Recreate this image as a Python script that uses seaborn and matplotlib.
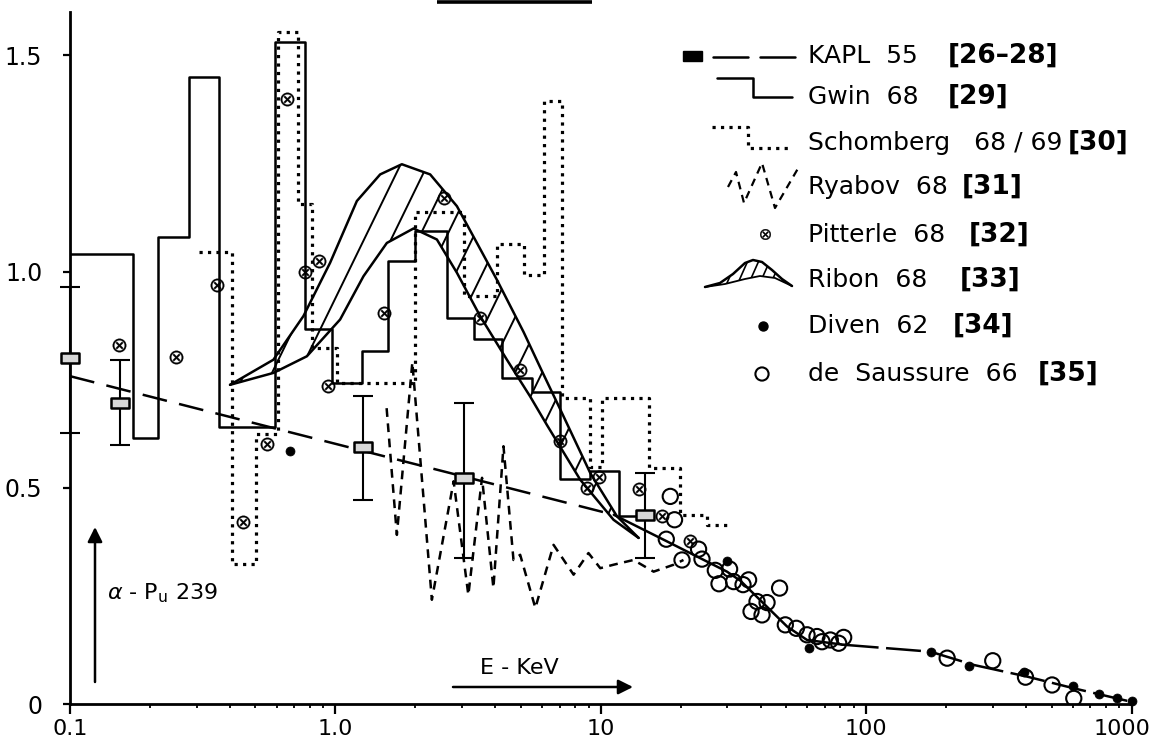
import numpy as np
import matplotlib
matplotlib.use("Agg")
import matplotlib.pyplot as plt
import matplotlib.transforms as mtransforms
from matplotlib.path import Path
from matplotlib.patches import Polygon, Rectangle
from matplotlib.collections import LineCollection
from matplotlib.ticker import LogLocator, NullFormatter
import seaborn as sns

sns.set_style("ticks")
plt.rcParams["font.family"] = ["DejaVu Sans"]
plt.rcParams["mathtext.fontset"] = "dejavusans"
for key in ("text.color", "axes.labelcolor", "xtick.color", "ytick.color",
            "axes.edgecolor"):
    plt.rcParams[key] = "black"

# ---------------- data (E in keV, alpha of Pu-239) ----------------
# Gwin 68: histogram bin edges and values
gwin_edges = [0.1, 0.173, 0.215, 0.281, 0.365, 0.593, 0.769, 0.970, 1.258, 1.585,
              1.998, 2.632, 3.316, 4.242, 5.504, 7.036, 9.13, 11.67, 14.09]
gwin_vals = [1.04, 0.615, 1.08, 1.45, 0.64, 1.53, 0.866, 0.742, 0.816, 1.024,
             1.093, 0.893, 0.843, 0.754, 0.722, 0.52, 0.538, 0.434]

# Schomberg 68/69: histogram bin edges and values
schom_edges = [0.306, 0.408, 0.503, 0.6085, 0.724, 0.818, 1.013, 1.998, 3.04, 4.06,
               5.12, 6.09, 7.16, 9.13, 10.1, 15.15, 19.94, 25.15, 30.3]
schom_vals = [1.046, 0.324, 0.625, 1.553, 1.157, 0.823, 0.743, 1.137, 0.943, 1.0625,
              0.993, 1.394, 0.708, 0.549, 0.708, 0.546, 0.4375, 0.414]

# KAPL 55: points with error bars and fitted line
kapl_x = [0.1, 0.1543, 1.269, 3.04, 14.72]
kapl_y = [0.799, 0.696, 0.5935, 0.5224, 0.4375]
kapl_lo = [0.627, 0.598, 0.4706, 0.337, 0.337]
kapl_hi = [0.965, 0.796, 0.712, 0.697, 0.534]
kapl_line_x = [0.1, 11.2]
kapl_line_y = [0.758, 0.4375]

# high-energy curve through Diven / de Saussure
curve_solid_x = [11.2, 18.3, 29.9, 33.6, 50.4, 59.9, 82.3]
curve_solid_y = [0.4375, 0.372, 0.306, 0.285, 0.179, 0.148, 0.137]
curve_dash_x = [82.3, 174.7, 254.4, 404.5, 606, 1000]
curve_dash_y = [0.137, 0.121, 0.0903, 0.0633, 0.0363, 0.005]

# Ryabov 68
ryabov_x = [1.56, 1.705, 1.95, 2.31, 2.79, 3.17, 3.57, 3.94, 4.30, 4.69, 4.97,
            5.67, 6.64, 7.90, 8.99, 9.96, 11.17, 13.29, 15.82, 18.82, 20.5]
ryabov_y = [0.684, 0.391, 0.79, 0.241, 0.515, 0.252, 0.523, 0.268, 0.596, 0.333, 0.345,
            0.222, 0.368, 0.299, 0.349, 0.314, 0.322, 0.333, 0.306, 0.322, 0.333]

# Pitterle 68
pitterle_x = [0.153, 0.250, 0.357, 0.450, 0.551, 0.656, 0.769, 0.871, 0.941, 1.52,
              2.556, 3.51, 4.97, 7.04, 8.87, 9.81, 13.89, 17.0, 21.75]
pitterle_y = [0.829, 0.802, 0.968, 0.42, 0.601, 1.398, 1.0, 1.025, 0.735, 0.904,
              1.171, 0.893, 0.773, 0.607, 0.499, 0.526, 0.497, 0.434, 0.376]

# Ribon 68: upper and lower band limits
ribon_up_x = [0.401, 0.584, 0.758, 0.955, 1.205, 1.475, 1.78, 2.276, 2.871, 3.415,
              4.06, 5.12, 6.0, 7.04, 9.13, 11.51, 13.89]
ribon_up_y = [0.738, 0.796, 0.897, 1.020, 1.163, 1.2245, 1.248, 1.2245, 1.151, 1.066,
              0.981, 0.86, 0.77, 0.681, 0.534, 0.434, 0.384]
ribon_lo_x = [0.401, 0.584, 0.781, 1.042, 1.276, 1.563, 1.97, 2.413, 2.871, 3.514,
              4.43, 5.42, 6.27, 8.37, 11.17, 13.89]
ribon_lo_y = [0.738, 0.7655, 0.804, 0.889, 0.989, 1.066, 1.0995, 1.074, 0.997, 0.8965,
              0.796, 0.711, 0.645, 0.5185, 0.426, 0.384]

# Diven 62
diven_x = [0.675, 29.9, 60.8, 175, 245, 395, 600, 753, 883, 1000]
diven_y = [0.586, 0.330, 0.129, 0.121, 0.088, 0.075, 0.042, 0.022, 0.013, 0.007]

# de Saussure 66
saussure_x = [18.28, 18.97, 17.66, 20.24, 23.37, 24.07, 27.02, 30.59, 27.9, 31.67,
              34.37, 36.07, 47.2, 38.8, 42.33, 36.84, 40.53, 49.6, 54.6, 59.9,
              65.3, 68.2, 73.3, 78.8, 82.3, 202, 300, 398.6, 502, 606]
saussure_y = [0.48, 0.426, 0.381, 0.333, 0.358, 0.335, 0.309, 0.312, 0.278, 0.283,
              0.276, 0.287, 0.268, 0.237, 0.2345, 0.214, 0.206, 0.183, 0.175, 0.160,
              0.156, 0.144, 0.148, 0.1405, 0.154, 0.106, 0.100, 0.062, 0.044, 0.013]

xtick_vals = [0.1, 1, 10, 100, 1000]
xtick_labels = ["0.1", "1.0", "10", "100", "1000"]
ytick_vals = [0, 0.5, 1.0, 1.5]
ytick_labels = ["0", "0.5", "1.0", "1.5"]

legend_labels = ["KAPL  55", "Gwin  68", "Schomberg   68 / 69", "Ryabov  68",
                 "Pitterle  68", "Ribon  68", "Diven  62", "de  Saussure  66"]
legend_refs = ["[26–28]", "[29]", "[30]", "[31]", "[32]", "[33]", "[34]", "[35]"]

# ---------------- styles ----------------
LW = 1.8
INK = "black"
LONG_DASH = (0, (10, 5))
SHORT_DASH = (0, (3.5, 2.6))
CURVE_DASH = (0, (14, 3))

W, H = 1159, 753
fig = plt.figure(figsize=(W / 100, H / 100), dpi=100)
ax = fig.add_axes([70 / W, 1 - 704 / H, 1061.5 / W, 692 / H])
ax.set_xscale("log")
ax.set_xlim(0.1, 1000)
ax.set_ylim(0, 1.6)

common = dict(ax=ax, estimator=None, sort=False, color=INK, legend=False)

# histograms
sns.lineplot(x=gwin_edges, y=gwin_vals + gwin_vals[-1:], drawstyle="steps-post",
             lw=LW, **common)
sns.lineplot(x=schom_edges, y=schom_vals + schom_vals[-1:], drawstyle="steps-post",
             lw=2.3, linestyle=":", **common)

# KAPL line and high-energy curve
sns.lineplot(x=kapl_line_x, y=kapl_line_y, lw=LW, linestyle=LONG_DASH, **common)
sns.lineplot(x=curve_solid_x, y=curve_solid_y, lw=LW, **common)
sns.lineplot(x=curve_dash_x, y=curve_dash_y, lw=LW, linestyle=CURVE_DASH, **common)

# Ryabov
sns.lineplot(x=ryabov_x, y=ryabov_y, lw=LW, linestyle=SHORT_DASH, **common)

# Ribon band with slanted hatching
sns.lineplot(x=ribon_up_x, y=ribon_up_y, lw=LW, **common)
sns.lineplot(x=ribon_lo_x, y=ribon_lo_y, lw=LW, **common)
band_xy = np.column_stack([np.concatenate([ribon_up_x, ribon_lo_x[::-1]]),
                           np.concatenate([ribon_up_y, ribon_lo_y[::-1]])])
band = Polygon(band_xy, closed=True, facecolor="none", edgecolor="none")
ax.add_patch(band)
ax_w_px, ax_h_px = 1061.5, 692
HATCH_ANGLE, HATCH_STEP = 64, 27
slant = (ax_h_px / np.tan(np.radians(HATCH_ANGLE))) / ax_w_px
offs = np.arange(-slant, 1.0, HATCH_STEP / ax_w_px)
hatch = LineCollection([[(c, 0), (c + slant, 1)] for c in offs], colors=INK,
                       linewidths=1.4, transform=ax.transAxes)
ax.add_collection(hatch, autolim=False)
hatch.set_clip_path(band)

# KAPL error bars and markers
yerr = [np.subtract(kapl_y, kapl_lo), np.subtract(kapl_hi, kapl_y)]
ax.errorbar(kapl_x, kapl_y, yerr=yerr, fmt="none", ecolor=INK, elinewidth=1.5,
            capsize=7, capthick=1.5, clip_on=False, zorder=3)
rect_marker = Path([(-1, -0.55), (1, -0.55), (1, 0.55), (-1, 0.55), (-1, -0.55)],
                   [Path.MOVETO, Path.LINETO, Path.LINETO, Path.LINETO, Path.CLOSEPOLY])
sns.scatterplot(x=kapl_x, y=kapl_y, marker=rect_marker, s=170, color="#d8d8d8",
                edgecolor=INK, linewidth=1.8, ax=ax, zorder=4, clip_on=False,
                legend=False)

# point data sets
sns.scatterplot(x=pitterle_x, y=pitterle_y, marker="$\\otimes$", s=95, color=INK,
                edgecolor=INK, linewidth=0.2, ax=ax, zorder=5, legend=False)
sns.scatterplot(x=saussure_x, y=saussure_y, marker="o", s=120, fc="none",
                edgecolor=INK, linewidth=1.5, ax=ax, zorder=5, legend=False)
sns.scatterplot(x=diven_x, y=diven_y, marker="o", s=42, color=INK, edgecolor=INK,
                linewidth=0.5, ax=ax, zorder=6, legend=False, clip_on=False)

# axes styling
sns.despine(ax=ax)
for side in ("left", "bottom"):
    ax.spines[side].set_linewidth(2.0)
    ax.spines[side].set_color(INK)
ax.set_xticks(xtick_vals)
ax.set_xticklabels(xtick_labels)
ax.xaxis.set_minor_locator(LogLocator(base=10, subs=np.arange(2, 10)))
ax.xaxis.set_minor_formatter(NullFormatter())
ax.set_yticks(ytick_vals)
ax.set_yticklabels(ytick_labels)
ax.tick_params(axis="x", which="major", length=7, width=1.6, pad=4, labelsize=16,
               direction="out", colors=INK)
ax.tick_params(axis="x", which="minor", length=3, width=1.3, direction="out",
               colors=INK)
ax.tick_params(axis="y", which="major", length=5, width=1.6, pad=15, labelsize=17,
               direction="out", colors=INK)
# keep the last energy label inside the figure
last_lbl = ax.get_xticklabels()[-1]
last_lbl.set_transform(last_lbl.get_transform() +
                       mtransforms.ScaledTranslation(-9 / 100, 0, fig.dpi_scale_trans))
ax.set_xlim(0.1, 1000)
ax.set_ylim(0, 1.6)
ax.set_xlabel("")
ax.set_ylabel("")

# ---------------- overlay: legend and annotations (pixel coordinates) ----------------
lg = fig.add_axes([0, 0, 1, 1], zorder=10)
lg.set_xlim(0, W)
lg.set_ylim(H, 0)
lg.axis("off")
lg.patch.set_alpha(0)

# underline of heading
lg.plot([437, 592], [2, 2], color=INK, lw=2.6, solid_capstyle="butt")

rows_y = [56, 97, 143, 187, 235, 280, 326, 374]
ref_x = [948, 948, 1068, 962, 969, 960, 953, 1038]
for lab, ref, yy, rx in zip(legend_labels, legend_refs, rows_y, ref_x):
    lg.text(808, yy, lab, fontsize=18, va="center", ha="left", color=INK)
    lg.text(rx, yy, ref, fontsize=19, va="center", ha="left", fontweight="bold",
            color=INK)

# KAPL glyph
lg.add_patch(Rectangle((683, 51), 19, 10, facecolor=INK, edgecolor=INK))
lg.plot([713, 748], [57, 57], color=INK, lw=LW)
lg.plot([760, 795], [57, 57], color=INK, lw=LW)
# Gwin glyph
lg.plot([717, 753, 753, 792], [78, 78, 97, 97], color=INK, lw=LW)
# Schomberg glyph
lg.plot([712, 748, 748, 790], [127, 127, 148, 148], color=INK, lw=2.3, linestyle=":")
# Ryabov glyph
lg.plot([728, 736, 744, 762, 775, 800], [187, 172, 203, 163, 208, 165],
        color=INK, lw=1.6, linestyle=SHORT_DASH)
# Pitterle glyph
lg.scatter([765], [234], marker="$\\otimes$", s=60, color=INK, linewidths=0.2)
# Ribon glyph
g_up = [(705, 287), (720, 283), (733, 274), (745, 263), (753, 260), (762, 262),
        (772, 270), (782, 279), (792, 286)]
g_lo = [(705, 287), (725, 284), (745, 279), (760, 276), (775, 278), (792, 286)]
lg.plot(*zip(*g_up), color=INK, lw=LW)
lg.plot(*zip(*g_lo), color=INK, lw=1.3)
g_poly = Polygon(g_up + g_lo[::-1], closed=True, facecolor="none", edgecolor="none")
lg.add_patch(g_poly)
g_hatch = LineCollection([[(x0, 292), (x0 + 16, 256)] for x0 in range(712, 792, 11)],
                         colors=INK, linewidths=1.2)
lg.add_collection(g_hatch, autolim=False)
g_hatch.set_clip_path(g_poly)
# Diven / de Saussure glyphs
lg.scatter([763], [326], s=42, color=INK)
lg.scatter([762], [374], s=90, facecolors="none", edgecolors=INK, linewidths=1.5)

# alpha arrow and label
lg.annotate("", xy=(95, 527), xytext=(95, 682),
            arrowprops=dict(arrowstyle="-|>", color=INK, lw=1.8, mutation_scale=22,
                            shrinkA=0, shrinkB=0))
lg.text(107, 593, r"$\alpha$ - P$_{\mathregular{u}}$ 239", fontsize=16, va="center",
        ha="left", color=INK)

# energy arrow and label
lg.annotate("", xy=(633, 687), xytext=(453, 687),
            arrowprops=dict(arrowstyle="-|>", color=INK, lw=1.8, mutation_scale=22,
                            shrinkA=0, shrinkB=0))
lg.text(480, 668, "E - KeV", fontsize=16, va="center", ha="left", color=INK)

lg.set_xlim(0, W)
lg.set_ylim(H, 0)

fig.savefig("out.png", dpi=100)
